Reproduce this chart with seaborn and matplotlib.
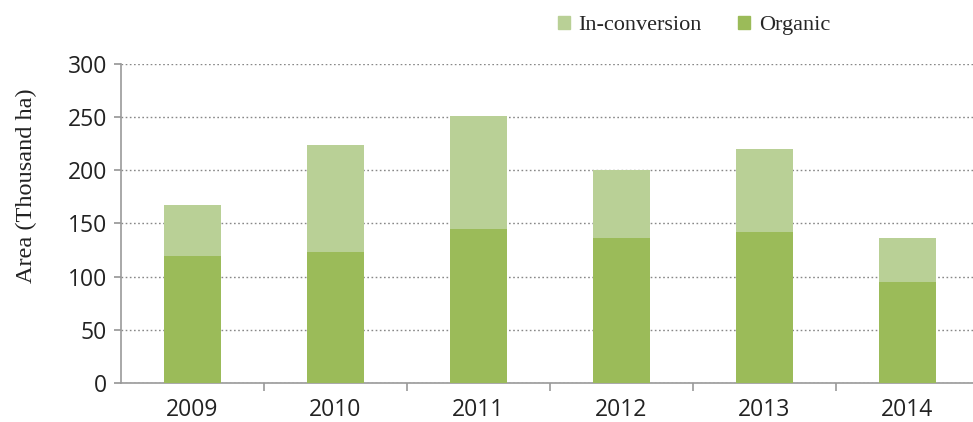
import matplotlib
matplotlib.use("Agg")
import matplotlib.pyplot as plt
import seaborn as sns
import pandas as pd
from matplotlib.patches import Patch

years = ["2009", "2010", "2011", "2012", "2013", "2014"]
organic = [119, 123, 145, 136, 142, 95]
in_conversion = [48, 101, 106, 64, 78, 41]
total = [o + c for o, c in zip(organic, in_conversion)]
yticks = [0, 50, 100, 150, 200, 250, 300]

col_org = "#9BBB59"
col_conv = "#B9D096"

sns.set_theme(style="white")
plt.rcParams["font.family"] = ["Open Sans", "DejaVu Sans"]

df = pd.DataFrame({"year": years, "organic": organic, "total": total})

fig = plt.figure(figsize=(9.73, 4.22), dpi=100)
ax = fig.add_axes([121/973, 39/422, 858/973, 319/422])

sns.barplot(data=df, x="year", y="total", color=col_conv, width=0.405,
            saturation=1, ax=ax, zorder=2, linewidth=0, edgecolor="none")
sns.barplot(data=df, x="year", y="organic", color=col_org, width=0.405,
            saturation=1, ax=ax, zorder=3, linewidth=0, edgecolor="none")

ax.set_xlim(-0.5, 5.5)
ax.set_ylim(0, 300)
ax.set_yticks(yticks)
ax.yaxis.grid(True, linestyle=(0, (1.2, 1.8)), color="#888888", linewidth=1.0, zorder=0)
ax.set_axisbelow(True)
for s in ["top", "right"]:
    ax.spines[s].set_visible(False)
for s in ["left", "bottom"]:
    ax.spines[s].set_color("#999999")
    ax.spines[s].set_linewidth(1.2)

ax.tick_params(axis="y", which="major", left=True, length=5, color="#999999",
               labelsize=16.5, labelcolor="#222222", pad=5)
ax.tick_params(axis="x", which="major", bottom=False, labelsize=16.5,
               labelcolor="#222222", pad=5)
ax.set_xticks([0.5, 1.5, 2.5, 3.5, 4.5], minor=True)
ax.tick_params(axis="x", which="minor", bottom=True, length=6, color="#999999", width=1.2)

ax.set_xlabel("")
ax.set_ylabel("Area (Thousand ha)", family=["Liberation Serif", "DejaVu Serif"],
              fontsize=17.5, color="#222222")
ax.yaxis.set_label_coords(-0.098, 0.62)

handles = [Patch(color=col_conv, label="In-conversion"),
           Patch(color=col_org, label="Organic")]
fig.legend(handles=handles, loc="center", bbox_to_anchor=(0.713, 0.94), ncol=2,
           frameon=False, prop={"family": ["Liberation Serif"], "size": 16},
           handlelength=0.55, handleheight=0.55, handletextpad=0.4, columnspacing=1.6)

fig.savefig("out.png", dpi=100)
